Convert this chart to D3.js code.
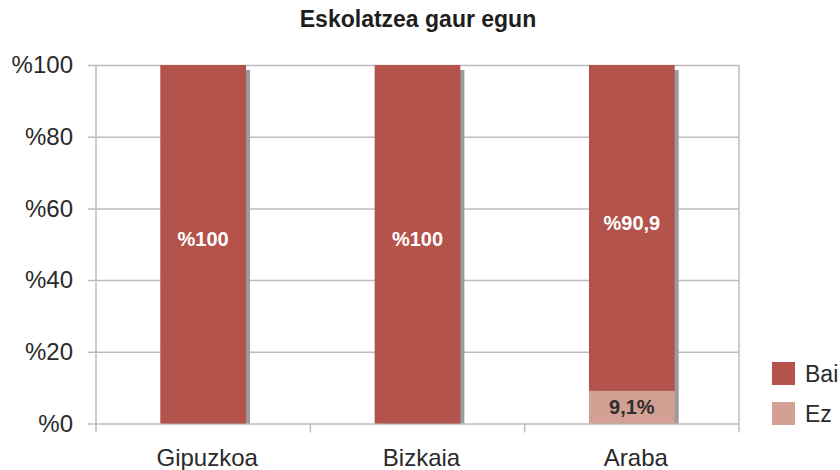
<!DOCTYPE html>
<html>
<head>
<meta charset="utf-8">
<script src="https://cdn.jsdelivr.net/npm/d3@7"></script>
<style>
  html, body { margin: 0; padding: 0; background: #fff; }
  svg { display: block; font-family: "Liberation Sans", Arial, Helvetica, sans-serif; }
</style>
</head>
<body>
<svg id="chart" width="840" height="470"></svg>
<script>
// Chart data
const categories = ["Gipuzkoa", "Bizkaia", "Araba"];
const seriesNames = ["Bai", "Ez"];
const baiValues = [100, 100, 90.9];
const ezValues = [0, 0, 9.1];
const baiLabels = ["%100", "%100", "%90,9"];
const ezLabels = ["", "", "9,1%"];
const yTicks = [0, 20, 40, 60, 80, 100];
const yTickLabels = ["%0", "%20", "%40", "%60", "%80", "%100"];
const title = "Eskolatzea gaur egun";

const colors = { Bai: "#b4534c", Ez: "#d4a094" };
const gridColor = "#bcbcbc";
const textColor = "#2a2a2a";

const svg = d3.select("#chart");
const plot = { left: 96, right: 739, top: 65, bottom: 423.5 };

const x = d3.scaleBand()
  .domain(categories)
  .range([plot.left, plot.right])
  .paddingInner(0.6)
  .paddingOuter(0.3);

const y = d3.scaleLinear()
  .domain([0, 100])
  .range([plot.bottom, plot.top]);

// Title
svg.append("text")
  .attr("x", 418).attr("y", 27)
  .attr("text-anchor", "middle")
  .attr("font-size", 23).attr("font-weight", "bold")
  .attr("fill", "#1e1e1e")
  .text(title);

// Horizontal gridlines with left tick stubs
const yAxis = d3.axisLeft(y)
  .tickValues(yTicks)
  .tickSize(-(plot.right - plot.left))
  .tickSizeOuter(0)
  .tickPadding(0)
  .tickFormat((d, i) => yTickLabels[i]);

const gy = svg.append("g")
  .attr("transform", `translate(${plot.left},0)`)
  .call(yAxis);
gy.select(".domain").remove();
gy.selectAll(".tick line")
  .attr("x1", -8)
  .attr("stroke", gridColor).attr("stroke-width", 1.5);
gy.selectAll(".tick text")
  .attr("x", -23)
  .attr("font-size", 24)
  .attr("fill", textColor)
  .attr("font-family", "'Liberation Sans', Arial, sans-serif");

// Left axis line and right border
svg.append("line")
  .attr("x1", plot.left).attr("x2", plot.left)
  .attr("y1", plot.top).attr("y2", plot.bottom + 9)
  .attr("stroke", gridColor).attr("stroke-width", 1.5);
svg.append("line")
  .attr("x1", plot.right).attr("x2", plot.right)
  .attr("y1", plot.top).attr("y2", plot.bottom + 9)
  .attr("stroke", gridColor).attr("stroke-width", 1.5);

// Category boundary ticks below the baseline
const boundaries = categories.slice(1).map(c => x(c) - x.step() * x.paddingInner() / 2);
svg.selectAll("line.cat-tick")
  .data(boundaries)
  .join("line")
  .attr("class", "cat-tick")
  .attr("x1", d => d).attr("x2", d => d)
  .attr("y1", plot.bottom).attr("y2", plot.bottom + 9)
  .attr("stroke", gridColor).attr("stroke-width", 1.5);

// Category labels
const xAxis = d3.axisBottom(x).tickSize(0).tickPadding(0);
const gx = svg.append("g")
  .attr("transform", `translate(0,${plot.bottom})`)
  .call(xAxis);
gx.select(".domain").remove();
gx.selectAll(".tick text")
  .attr("x", 4)
  .attr("y", 42)
  .attr("dy", 0)
  .attr("font-size", 24)
  .attr("fill", textColor)
  .attr("font-family", "'Liberation Sans', Arial, sans-serif");

// Stacked data
const rows = categories.map((c, i) => ({ cat: c, Bai: baiValues[i], Ez: ezValues[i] }));
const stack = d3.stack().keys(["Ez", "Bai"]);
const stacked = stack(rows);
const totals = rows.map(r => r.Bai + r.Ez);

// Shadow behind each column
svg.selectAll("rect.shadow")
  .data(rows)
  .join("rect")
  .attr("class", "shadow")
  .attr("x", d => x(d.cat) + 4)
  .attr("y", (d, i) => y(totals[i]) + 5)
  .attr("width", x.bandwidth())
  .attr("height", (d, i) => plot.bottom - y(totals[i]) - 5)
  .attr("fill", "#9a9b9e");

// Stacked bars
stacked.forEach(layer => {
  svg.selectAll(`rect.bar-${layer.key}`)
    .data(layer.filter(d => d[1] - d[0] > 0))
    .join("rect")
    .attr("class", `bar-${layer.key}`)
    .attr("x", d => x(d.data.cat))
    .attr("y", d => y(d[1]))
    .attr("width", x.bandwidth())
    .attr("height", d => y(d[0]) - y(d[1]))
    .attr("fill", colors[layer.key]);
});

// Value labels
const baiLayer = stacked.find(l => l.key === "Bai");
const ezLayer = stacked.find(l => l.key === "Ez");
svg.selectAll("text.bai-label")
  .data(baiLayer)
  .join("text")
  .attr("class", "bai-label")
  .attr("x", d => x(d.data.cat) + x.bandwidth() / 2)
  .attr("y", d => (y(d[0]) + y(d[1])) / 2 - 5)
  .attr("dy", "0.35em")
  .attr("text-anchor", "middle")
  .attr("font-size", 20).attr("font-weight", "bold")
  .attr("fill", "#ffffff")
  .text((d, i) => baiLabels[i]);

svg.selectAll("text.ez-label")
  .data(ezLayer.filter((d, i) => ezLabels[i] !== ""))
  .join("text")
  .attr("class", "ez-label")
  .attr("x", d => x(d.data.cat) + x.bandwidth() / 2)
  .attr("y", d => (y(d[0]) + y(d[1])) / 2)
  .attr("dy", "0.35em")
  .attr("text-anchor", "middle")
  .attr("font-size", 20).attr("font-weight", "bold")
  .attr("fill", "#2e2e2e")
  .text(d => ezLabels[categories.indexOf(d.data.cat)]);

// Legend
const legend = svg.append("g").attr("transform", "translate(772,362)");
const li = legend.selectAll("g")
  .data(seriesNames)
  .join("g")
  .attr("transform", (d, i) => `translate(0,${i * 40})`);
li.append("rect")
  .attr("width", 23).attr("height", 23)
  .attr("fill", d => colors[d]);
li.append("text")
  .attr("x", 33).attr("y", 20)
  .attr("font-size", 23)
  .attr("fill", textColor)
  .text(d => d);
</script>
</body>
</html>
